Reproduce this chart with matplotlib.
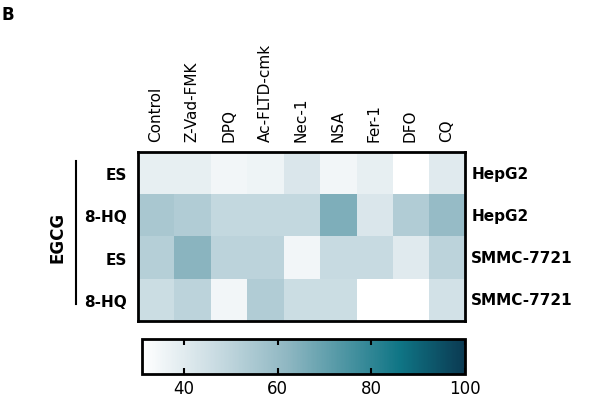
import matplotlib.pyplot as plt
import numpy as np
from matplotlib.colors import LinearSegmentedColormap

treatments = ["Control", "Z-Vad-FMK", "DPQ", "Ac-FLTD-cmk", "Nec-1", "NSA", "Fer-1", "DFO", "CQ"]
drugs = ["ES", "8-HQ", "ES", "8-HQ"]
cells = ["HepG2", "HepG2", "SMMC-7721", "SMMC-7721"]
values = np.array([
    [38, 38, 35, 36, 42, 35, 38, 30, 40],
    [55, 53, 48, 48, 48, 65, 42, 53, 60],
    [52, 63, 50, 50, 35, 47, 47, 40, 50],
    [46, 50, 35, 53, 46, 46, 30, 30, 44],
])
cbar_ticks = [40, 60, 80, 100]

cmap = LinearSegmentedColormap.from_list(
    "teal", [(0, "#ffffff"), (0.2, "#d0e0e6"), (0.45, "#8fb7c2"), (0.8, "#0f7585"), (1, "#0b3a52")])

fig = plt.figure(figsize=(5.99, 4.06), dpi=100)
ax = fig.add_axes([0.230, 0.207, 0.546, 0.416])
im = ax.imshow(values, cmap=cmap, vmin=31, vmax=100, aspect="auto")
ax.set_xticks(range(len(treatments)))
ax.set_xticklabels(treatments, rotation=90, fontsize=11)
ax.xaxis.tick_top()
ax.set_yticks(range(len(drugs)))
ax.set_yticklabels(drugs, fontsize=11, fontweight="bold")
ax.tick_params(length=0, pad=8)
for s in ax.spines.values():
    s.set_linewidth(2)
for i, c in enumerate(cells):
    ax.text(1.02, (3.5 - i) / 4, c, transform=ax.transAxes, va="center",
            fontsize=11, fontweight="bold")
ax.plot([-0.19, -0.19], [0.95, 0.1], transform=ax.transAxes, color="black", lw=1.5, clip_on=False)
ax.text(-0.245, 0.5, "EGCG", transform=ax.transAxes, rotation=90, va="center", ha="center",
        fontsize=12, fontweight="bold")
fig.text(0.003, 0.985, "B", fontsize=12, fontweight="bold", va="top")

cax = fig.add_axes([0.237, 0.076, 0.539, 0.086])
cb = fig.colorbar(im, cax=cax, orientation="horizontal", ticks=cbar_ticks)
cb.outline.set_linewidth(2)
cax.tick_params(labelsize=12, direction="in", length=4, width=1.5, top=True)
fig.savefig("out.png", dpi=100)
